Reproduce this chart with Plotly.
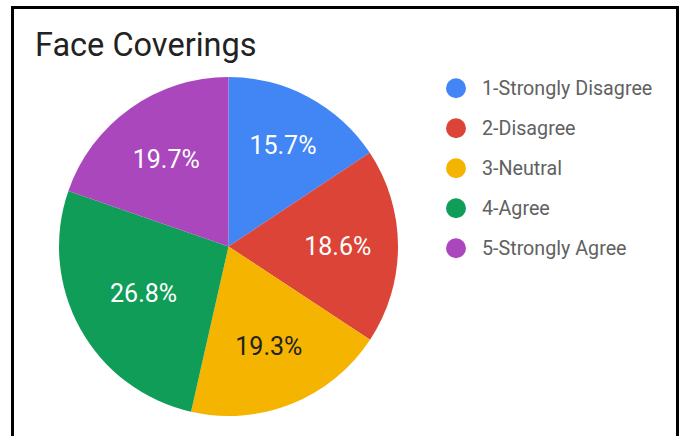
import plotly.graph_objects as go

# ---- data ----
categories = ["1-Strongly Disagree", "2-Disagree", "3-Neutral", "4-Agree", "5-Strongly Agree"]
values = [15.7, 18.6, 19.3, 26.8, 19.7]
colors = ["#4285F4", "#DB4437", "#F4B400", "#0F9D58", "#AB47BC"]
label_colors = ["#FFFFFF", "#FFFFFF", "#222222", "#FFFFFF", "#FFFFFF"]
title_text = "Face Coverings"

W, H = 681, 436

def px_x(x):
    return x / W

def px_y(y):
    return 1 - y / H

# pie geometry in screen pixels (centre and radius)
cx, cy, r = 228.5, 246.5, 169.5

fig = go.Figure()
fig.add_trace(go.Pie(
    labels=categories,
    values=values,
    marker=dict(colors=colors, line=dict(width=0)),
    sort=False,
    direction="clockwise",
    rotation=0,
    texttemplate="%{percent:.1%}",
    textposition="inside",
    insidetextorientation="horizontal",
    insidetextfont=dict(family="Roboto", size=25, color=label_colors),
    showlegend=False,
    hoverinfo="label+percent",
    domain=dict(x=[px_x(cx - r), px_x(cx + r)], y=[px_y(cy + r), px_y(cy - r)]),
))

top_y = 7.5
shapes = [
    # frame (left, top, right edges; bottom cut off)
    dict(type="line", xref="paper", yref="paper", x0=px_x(12.5), x1=px_x(12.5), y0=-0.1, y1=px_y(top_y),
         line=dict(color="black", width=3)),
    dict(type="line", xref="paper", yref="paper", x0=px_x(11), x1=px_x(679), y0=px_y(top_y), y1=px_y(top_y),
         line=dict(color="black", width=3)),
    dict(type="line", xref="paper", yref="paper", x0=px_x(677.5), x1=px_x(677.5), y0=-0.1, y1=px_y(top_y),
         line=dict(color="black", width=3)),
]
annotations = []
leg_x, leg_y0, leg_dy, dot_r = 456, 88.3, 40, 10
for i, (cat, col) in enumerate(zip(categories, colors)):
    yc = leg_y0 + i * leg_dy
    shapes.append(dict(type="circle", xref="paper", yref="paper",
                       x0=px_x(leg_x - dot_r), x1=px_x(leg_x + dot_r),
                       y0=px_y(yc + dot_r), y1=px_y(yc - dot_r),
                       fillcolor=col, line=dict(width=0)))
    annotations.append(dict(text=cat, xref="paper", yref="paper", x=px_x(479.5), y=px_y(yc),
                            xanchor="left", yanchor="middle", showarrow=False,
                            font=dict(family="Roboto", size=19.7, color="#616161")))

fig.update_layout(
    width=W, height=H,
    margin=dict(l=0, r=0, t=0, b=0),
    paper_bgcolor="white",
    plot_bgcolor="white",
    title=dict(text=title_text, x=px_x(35), xanchor="left", xref="paper",
               y=px_y(45), yanchor="middle", yref="paper",
               font=dict(family="Roboto", size=32.5, color="#222222")),
    shapes=shapes,
    annotations=annotations,
)

fig.write_html(
    "out.html",
    config={"displayModeBar": False},
    post_script="document.body.style.margin='0px';"
                "document.documentElement.style.overflow='hidden';"
                "document.body.style.overflow='hidden';",
)
